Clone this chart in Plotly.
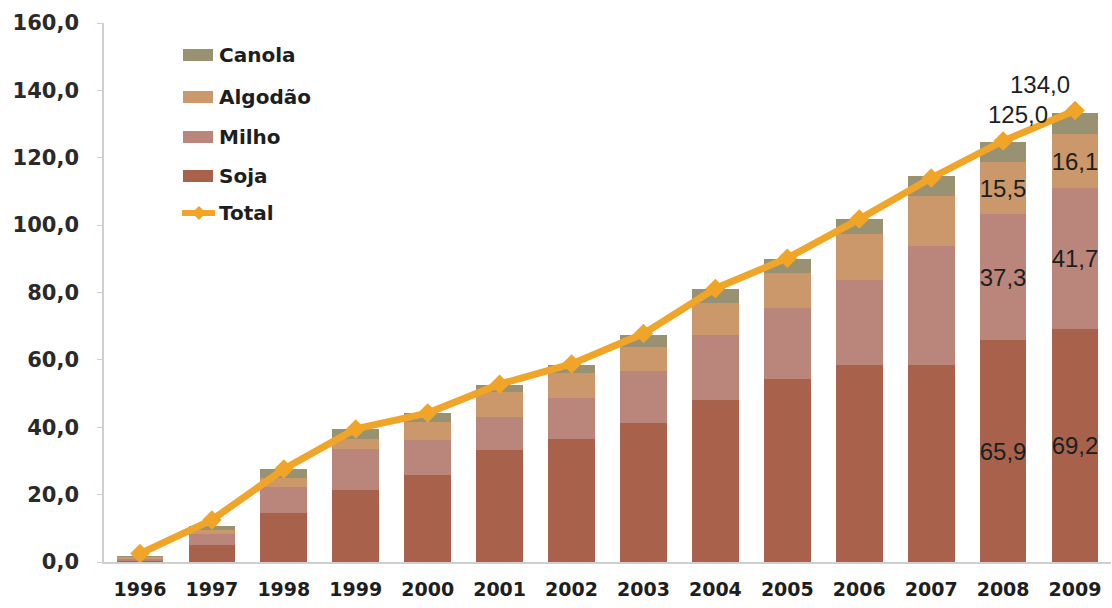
import plotly.graph_objects as go

# Área global com culturas transgênicas (milhões de hectares)
anos = ["1996", "1997", "1998", "1999", "2000", "2001", "2002",
        "2003", "2004", "2005", "2006", "2007", "2008", "2009"]
soja = [0.5, 5.1, 14.4, 21.5, 25.7, 33.1, 36.6, 41.2, 48.2, 54.4, 58.6, 58.6, 65.9, 69.2]
milho = [0.3, 3.1, 7.9, 11.9, 10.4, 10.0, 12.1, 15.6, 19.3, 21.0, 25.2, 35.3, 37.3, 41.7]
algodao = [0.8, 1.4, 2.7, 3.2, 5.6, 7.5, 7.4, 7.0, 9.4, 10.4, 13.7, 14.7, 15.5, 16.1]
canola = [0.1, 1.2, 2.7, 2.9, 2.4, 1.8, 2.5, 3.7, 4.0, 4.2, 4.4, 5.9, 5.9, 6.4]
total = [2.5, 12.5, 27.6, 39.5, 44.2, 52.8, 58.8, 67.8, 81.2, 90.2, 101.8, 114.0, 125.0, 134.0]

# anos cujos segmentos e total recebem rótulo
anos_rotulados = ["2008", "2009"]

COR_SOJA = "rgb(168,98,76)"
COR_MILHO = "rgb(186,134,124)"
COR_ALGODAO = "rgb(202,152,106)"
COR_CANOLA = "rgb(152,146,114)"
COR_TOTAL = "rgb(240,165,40)"

FONTE_EIXO = "DejaVu Sans"
FONTE_ROTULO = "Liberation Sans, Arial, sans-serif"

W, H = 1112, 608
M_L, M_R, M_T, M_B = 104, 1, 23, 46
PW, PH = W - M_L - M_R, H - M_T - M_B


def fmt(v):
    return f"{v:.1f}".replace(".", ",")


def rotulos(valores):
    return [fmt(v) if a in anos_rotulados else "" for a, v in zip(anos, valores)]


def px_x(px):
    return (px - M_L) / PW


def px_y(py):
    return (H - M_B - py) / PH


fig = go.Figure()

series = [("Soja", soja, COR_SOJA), ("Milho", milho, COR_MILHO),
          ("Algodão", algodao, COR_ALGODAO), ("Canola", canola, COR_CANOLA)]
for nome, vals, cor in series:
    fig.add_trace(go.Bar(
        x=anos, y=vals, name=nome, marker=dict(color=cor, line=dict(width=0)),
        text=rotulos(vals) if nome != "Canola" else None,
        textposition="inside", insidetextanchor="middle",
        textangle=0, constraintext="none",
        textfont=dict(family=FONTE_ROTULO, size=24, color="#1e1e1e"),
        showlegend=False, hoverinfo="x+y+name",
    ))

fig.add_trace(go.Scatter(
    x=anos, y=total, name="Total", mode="lines+markers",
    line=dict(color=COR_TOTAL, width=7),
    marker=dict(symbol="diamond", size=15, color=COR_TOTAL),
    showlegend=False,
))

# rótulos do total (posição pelo índice da categoria)
deslocamentos = {"2008": 15, "2009": -35}
for i, (a, v) in enumerate(zip(anos, total)):
    if a in anos_rotulados:
        fig.add_annotation(
            x=i, y=v, xref="x", yref="y", text=fmt(v), showarrow=False,
            xshift=deslocamentos[a], yshift=26,
            font=dict(family=FONTE_ROTULO, size=24, color="#1e1e1e"),
        )

# legenda
legenda = [("Canola", COR_CANOLA, 55), ("Algodão", COR_ALGODAO, 97),
           ("Milho", COR_MILHO, 137), ("Soja", COR_SOJA, 176)]
for nome, cor, py in legenda:
    fig.add_shape(type="rect", xref="paper", yref="paper",
                  x0=px_x(183), x1=px_x(213), y0=px_y(py + 6), y1=px_y(py - 6),
                  fillcolor=cor, line=dict(width=0))
    fig.add_annotation(x=px_x(217), y=px_y(py), xref="paper", yref="paper",
                       text=nome, showarrow=False, xanchor="left", yanchor="middle",
                       font=dict(family=FONTE_EIXO, size=20, color="#1e1e1e", weight="bold"))
py_t = 213
fig.add_shape(type="line", xref="paper", yref="paper",
              x0=px_x(182), x1=px_x(215), y0=px_y(py_t), y1=px_y(py_t),
              line=dict(color=COR_TOTAL, width=6))
cx, cy, r = 199, py_t, 7
fig.add_shape(type="path", xref="paper", yref="paper",
              path=(f"M {px_x(cx - r)} {px_y(cy)} L {px_x(cx)} {px_y(cy - r)} "
                    f"L {px_x(cx + r)} {px_y(cy)} L {px_x(cx)} {px_y(cy + r)} Z"),
              fillcolor=COR_TOTAL, line=dict(width=0))
fig.add_annotation(x=px_x(217), y=px_y(py_t), xref="paper", yref="paper",
                   text="Total", showarrow=False, xanchor="left", yanchor="middle",
                   font=dict(family=FONTE_EIXO, size=20, color="#1e1e1e", weight="bold"))

fig.update_layout(
    width=W, height=H,
    margin=dict(l=M_L, r=M_R, t=M_T, b=M_B),
    barmode="stack", bargap=0.35,
    plot_bgcolor="white", paper_bgcolor="white",
    separators=",.",
    showlegend=False,
    xaxis=dict(
        type="category", range=[-0.5, 13.5],
        showline=True, linecolor="#cfcfcf", linewidth=1.5,
        ticks="", ticklabelstandoff=9, showgrid=False, zeroline=False,
        tickfont=dict(family=FONTE_EIXO, size=19, color="#1e1e1e", weight="bold"),
    ),
    yaxis=dict(
        range=[0, 160], tickvals=list(range(0, 161, 20)), tickformat=".1f",
        showline=True, linecolor="#cfcfcf", linewidth=1.5,
        ticks="outside", ticklen=5, tickcolor="#cfcfcf",
        ticklabelstandoff=14, showgrid=False, zeroline=False,
        tickfont=dict(family=FONTE_EIXO, size=21, color="#2a2a2a", weight="bold"),
    ),
)

fig.write_html("out.html")
